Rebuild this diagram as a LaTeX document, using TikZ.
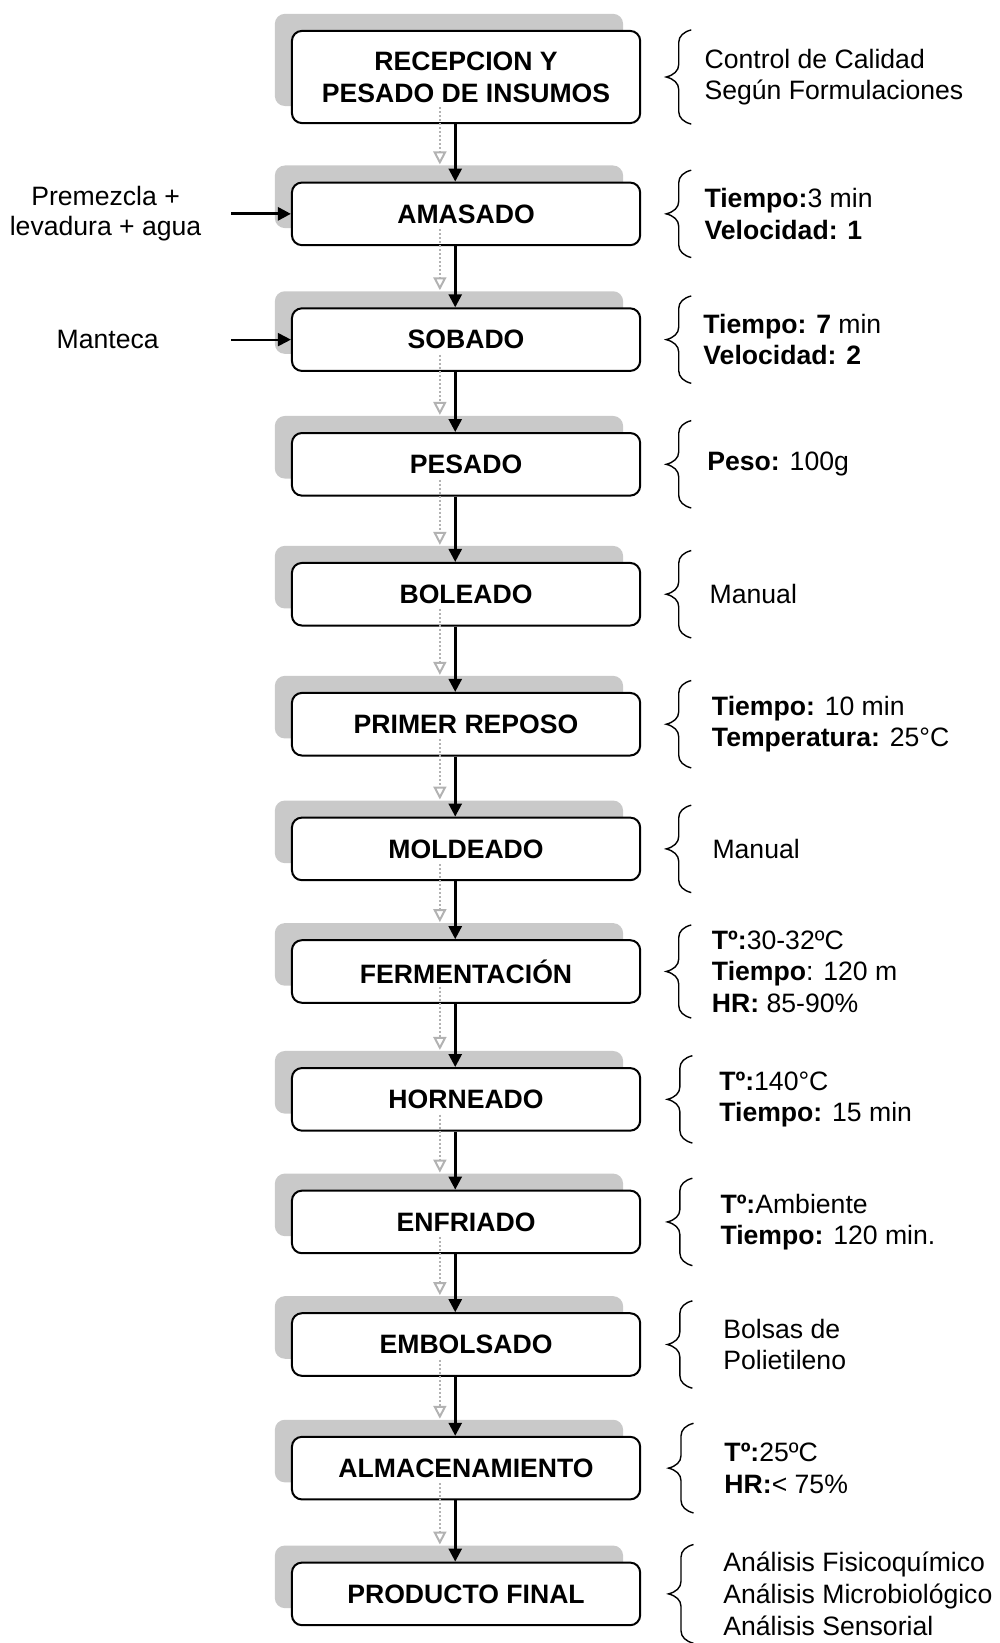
\documentclass[tikz,border=0pt]{standalone}
\usepackage{fontspec}
\setmainfont{Liberation Sans}
\usetikzlibrary{arrows.meta, positioning, shadows, decorations.pathreplacing}
\tikzset{
  stage/.style={rectangle, rounded corners=5pt,
    minimum width=6.12cm, minimum height=1.1cm,
    text centered, draw=black, line width=1pt, fill=white,
    drop shadow={shadow xshift=-0.3cm, shadow yshift=0.3cm,
      fill=gray!42, opacity=1},
    font=\fontsize{13.3}{16}\selectfont\bfseries, align=center},
  paramtext/.style={align=left, font=\fontsize{13.3}{15.8}\selectfont},
  inputtext/.style={align=center, font=\fontsize{13.3}{15}\selectfont},
  sidebrace/.style={decorate,
    decoration={brace, amplitude=0.22cm, transform={yscale=2}},
    line width=0.7pt},
  arr/.style={-{Triangle[length=6.5pt, width=6.5pt]}, line width=1.3pt,
    preaction={draw=gray!60, densely dotted, line width=1pt,
      -{Triangle[open, length=6.5pt, width=6.5pt]},
      transform canvas={shift={(-0.27cm,0.3cm)}}}},
  inarr/.style={-{Triangle[length=6.5pt, width=6.5pt]}, line width=1.4pt},
}

\begin{document}
\begin{tikzpicture}
\useasboundingbox (0,0) rectangle (17.573,-28.873);

% Process stages
\node (recep) [stage, minimum height=1.62cm] at (8.19,-1.353)
  {RECEPCION Y\\PESADO DE INSUMOS};
\node (amas) [stage, below=1.01cm of recep]  {AMASADO};
\node (sob)  [stage, below=1.075cm of amas]  {SOBADO};
\node (pes)  [stage, below=1.056cm of sob]   {PESADO};
\node (bol)  [stage, below=1.148cm of pes]   {BOLEADO};
\node (pri)  [stage, below=1.149cm of bol]   {PRIMER REPOSO};
\node (mol)  [stage, below=1.056cm of pri]   {MOLDEADO};
\node (fer)  [stage, below=1.019cm of mol]   {FERMENTACIÓN};
\node (hor)  [stage, below=1.112cm of fer]   {HORNEADO};
\node (enf)  [stage, below=1.019cm of hor]   {ENFRIADO};
\node (emb)  [stage, below=1.019cm of enf]   {EMBOLSADO};
\node (alm)  [stage, below=1.037cm of emb]   {ALMACENAMIENTO};
\node (pro)  [stage, below=1.075cm of alm]   {PRODUCTO FINAL};

% Inputs
\coordinate [left=1.05cm of amas.west] (in1);
\node (premix) [inputtext, left=0.4cm of in1] {Premezcla +\\levadura + agua};
\draw[inarr] (in1) -- (amas.west);

\coordinate [left=1.05cm of sob.west] (in2);
\node (mant) [inputtext, left=1.15cm of in2] {Manteca};
\draw[inarr, line width=1pt] (in2) -- (sob.west);

% Spine arrows
\draw[arr] ([xshift=-0.19cm]recep.south) -- ([xshift=-0.19cm]amas.north);
\draw[arr] ([xshift=-0.19cm]amas.south)  -- ([xshift=-0.19cm]sob.north);
\draw[arr] ([xshift=-0.19cm]sob.south)   -- ([xshift=-0.19cm]pes.north);
\draw[arr] ([xshift=-0.19cm]pes.south)   -- ([xshift=-0.19cm]bol.north);
\draw[arr] ([xshift=-0.19cm]bol.south)   -- ([xshift=-0.19cm]pri.north);
\draw[arr] ([xshift=-0.19cm]pri.south)   -- ([xshift=-0.19cm]mol.north);
\draw[arr] ([xshift=-0.19cm]mol.south)   -- ([xshift=-0.19cm]fer.north);
\draw[arr] ([xshift=-0.19cm]fer.south)   -- ([xshift=-0.19cm]hor.north);
\draw[arr] ([xshift=-0.19cm]hor.south)   -- ([xshift=-0.19cm]enf.north);
\draw[arr] ([xshift=-0.19cm]enf.south)   -- ([xshift=-0.19cm]emb.north);
\draw[arr] ([xshift=-0.19cm]emb.south)   -- ([xshift=-0.19cm]alm.north);
\draw[arr] ([xshift=-0.19cm]alm.south)   -- ([xshift=-0.19cm]pro.north);

% Braces
\draw[sidebrace] ([xshift=0.88cm]recep.south east) -- ([xshift=0.88cm]recep.north east);
\draw[sidebrace] ([xshift=0.88cm,yshift=-0.2cm]amas.south east) -- ([xshift=0.88cm,yshift=0.2cm]amas.north east);
\draw[sidebrace] ([xshift=0.88cm,yshift=-0.2cm]sob.south east) -- ([xshift=0.88cm,yshift=0.2cm]sob.north east);
\draw[sidebrace] ([xshift=0.88cm,yshift=-0.2cm]pes.south east) -- ([xshift=0.88cm,yshift=0.2cm]pes.north east);
\draw[sidebrace] ([xshift=0.88cm,yshift=-0.2cm]bol.south east) -- ([xshift=0.88cm,yshift=0.2cm]bol.north east);
\draw[sidebrace] ([xshift=0.88cm,yshift=-0.2cm]pri.south east) -- ([xshift=0.88cm,yshift=0.2cm]pri.north east);
\draw[sidebrace] ([xshift=0.88cm,yshift=-0.2cm]mol.south east) -- ([xshift=0.88cm,yshift=0.2cm]mol.north east);
\draw[sidebrace] ([xshift=0.88cm,yshift=-0.25cm]fer.south east) -- ([xshift=0.88cm,yshift=0.25cm]fer.north east);
\draw[sidebrace] ([xshift=0.9cm,yshift=-0.2cm]hor.south east) -- ([xshift=0.9cm,yshift=0.2cm]hor.north east);
\draw[sidebrace] ([xshift=0.9cm,yshift=-0.2cm]enf.south east) -- ([xshift=0.9cm,yshift=0.2cm]enf.north east);
\draw[sidebrace] ([xshift=0.9cm,yshift=-0.2cm]emb.south east) -- ([xshift=0.9cm,yshift=0.2cm]emb.north east);
\draw[sidebrace] ([xshift=0.92cm,yshift=-0.22cm]alm.south east) -- ([xshift=0.92cm,yshift=0.22cm]alm.north east);
\draw[sidebrace] ([xshift=0.92cm,yshift=-0.3cm]pro.south east) -- ([xshift=0.92cm,yshift=0.3cm]pro.north east);

% Parameters
\node (recepp) [paramtext, right=0.99cm of recep] {Control de Calidad\\Según Formulaciones};
\node (amasp)  [paramtext, right=0.99cm of amas]  {\textbf{Tiempo:}3 min\\\textbf{Velocidad: 1}};
\node (sobp)   [paramtext, right=0.97cm of sob]   {\textbf{Tiempo: 7} min\\\textbf{Velocidad: 2}};
\node (pesp)   [paramtext, right=1.04cm of pes]   {\textbf{Peso:} 100g};
\node (bolp)   [paramtext, right=1.08cm of bol]   {Manual};
\node (prip)   [paramtext, right=1.12cm of pri]   {\textbf{Tiempo:} 10 min\\\textbf{Temperatura:} 25°C};
\node (molp)   [paramtext, right=1.13cm of mol]   {Manual};
\node (ferp)   [paramtext, right=1.12cm of fer]   {\textbf{Tº:}30-32ºC\\\textbf{Tiempo}: 120 m\\\textbf{HR:} 85-90\%};
\node (horp)   [paramtext, right=1.25cm of hor]   {\textbf{Tº:}140°C\\\textbf{Tiempo:} 15 min};
\node (enfp)   [paramtext, right=1.27cm of enf]   {\textbf{Tº:}Ambiente\\\textbf{Tiempo:} 120 min.};
\node (embp)   [paramtext, right=1.32cm of emb]   {Bolsas de\\Polietileno};
\node (almp)   [paramtext, right=1.34cm of alm]   {\textbf{Tº:}25ºC\\\textbf{HR:}< 75\%};
\node (prop)   [paramtext, right=1.32cm of pro]   {Análisis Fisicoquímico\\Análisis Microbiológico\\Análisis Sensorial};

\end{tikzpicture}
\end{document}
